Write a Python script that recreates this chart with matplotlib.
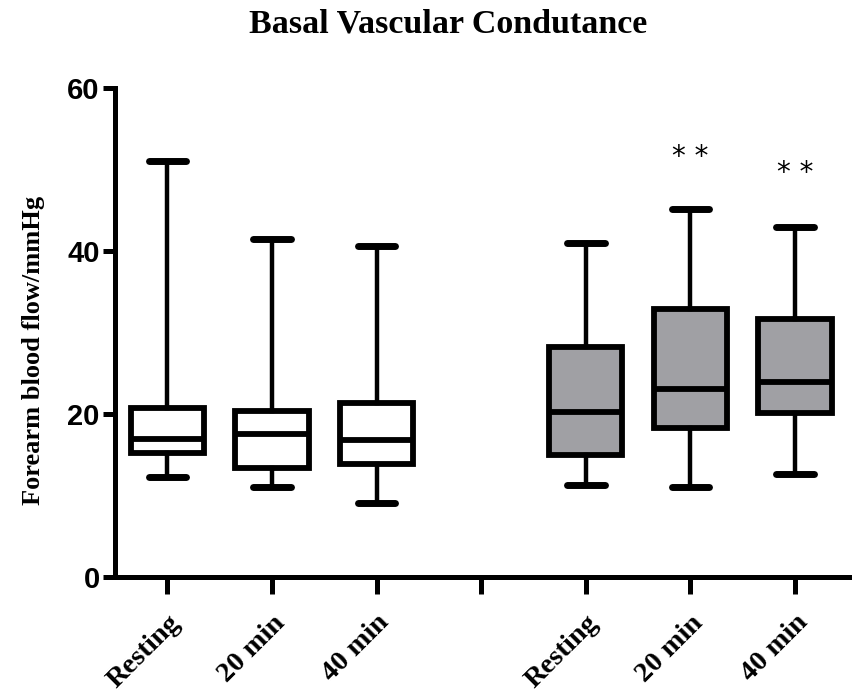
import matplotlib
matplotlib.use('Agg')
import matplotlib.pyplot as plt

plt.rcParams['font.family'] = 'Liberation Serif'

# values (Forearm blood flow/mmHg)
labels = ['Resting', '20 min', '40 min', '', 'Resting', '20 min', '40 min']
positions = [0, 1, 2, 4, 5, 6]
whislo = [12.2, 11.0, 9.1, 11.3, 11.0, 12.6]
q1 = [15.2, 13.4, 13.9, 15.0, 18.3, 20.1]
med = [16.9, 17.5, 16.8, 20.2, 23.1, 23.9]
q3 = [20.7, 20.3, 21.3, 28.2, 32.9, 31.6]
whishi = [51.0, 41.5, 40.6, 40.9, 45.1, 42.9]
fills = ['white', 'white', 'white', '#a0a0a4', '#a0a0a4', '#a0a0a4']
sig_pos = [5, 6]
sig_y = [51.5, 49.5]

stats = []
for i in range(len(positions)):
    stats.append({'whislo': whislo[i], 'q1': q1[i], 'med': med[i],
                  'q3': q3[i], 'whishi': whishi[i], 'fliers': []})

fig = plt.figure(figsize=(8.52, 6.96), dpi=100)
ax = fig.add_axes([0.135, 0.171, 0.867, 0.703])

lw = 4.2
bp = ax.bxp(stats, positions=positions, widths=0.7, patch_artist=True,
            showfliers=False,
            boxprops=dict(linewidth=lw, edgecolor='black'),
            medianprops=dict(linewidth=lw, color='black'),
            whiskerprops=dict(linewidth=3.2, color='black'),
            capprops=dict(linewidth=5, color='black', solid_capstyle='round'),
            capwidths=0.36)
for patch, c in zip(bp['boxes'], fills):
    patch.set_facecolor(c)

for p, y in zip(sig_pos, sig_y):
    ax.text(p, y, '* *', ha='center', va='center', fontsize=20,
            family='DejaVu Sans')

ax.set_xlim(-0.5, 6.56)
ax.set_ylim(0, 60)
ax.set_yticks([0, 20, 40, 60])
ax.set_xticks(range(len(labels)))
ax.set_xticklabels(labels, rotation=45, ha='right', va='top',
                   rotation_mode='anchor', fontsize=20.5, fontweight='bold')
for t in ax.get_yticklabels():
    t.set_family('Liberation Sans')
    t.set_fontweight('bold')
    t.set_fontsize(21)

for s in ['top', 'right']:
    ax.spines[s].set_visible(False)
for s in ['left', 'bottom']:
    ax.spines[s].set_linewidth(3.6)
ax.tick_params(axis='y', length=9, width=3.6, pad=2)
ax.tick_params(axis='x', length=12, width=3.6, pad=12)

fig.text(0.039, 0.497, 'Forearm blood flow/mmHg', rotation=90, ha='center',
         va='center', fontsize=19, fontweight='bold')
fig.text(0.526, 0.966, 'Basal Vascular Condutance', ha='center', va='center',
         fontsize=24.5, fontweight='bold')

fig.savefig('out.png', dpi=100)
